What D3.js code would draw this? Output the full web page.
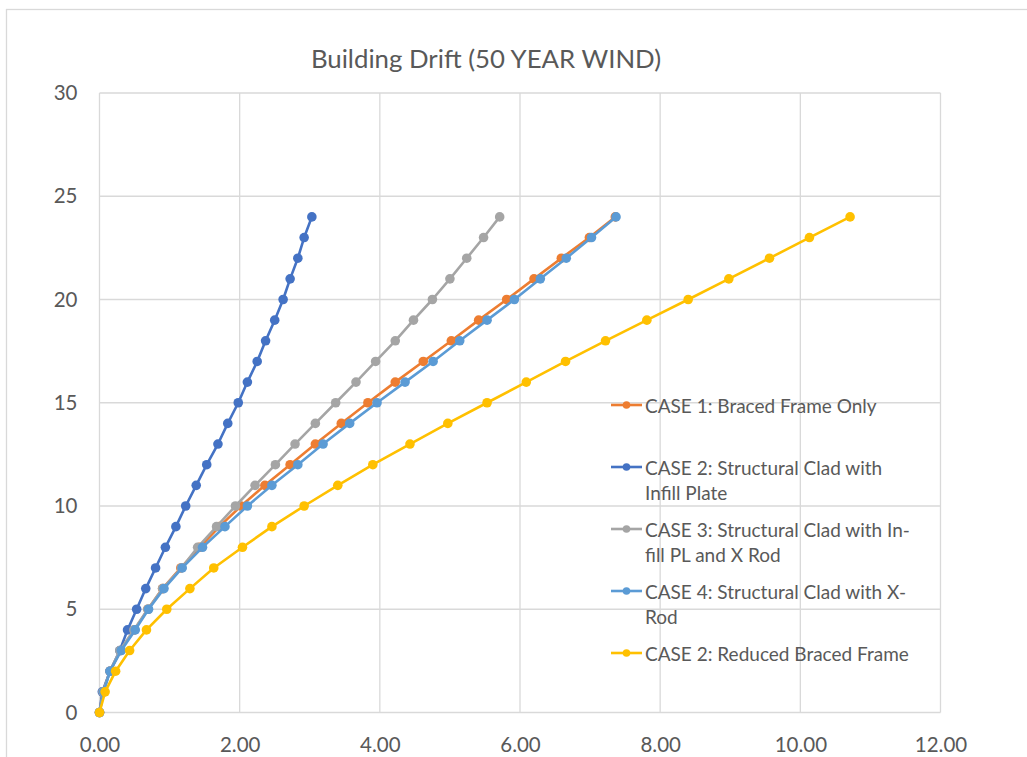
<!DOCTYPE html>
<html>
<head>
<meta charset="utf-8">
<script src="https://cdn.jsdelivr.net/npm/d3@7"></script>
<style>
  html, body { margin: 0; padding: 0; background: #fff; }
  svg { display: block; }
  text { font-family: Lato, "Open Sans", sans-serif; fill: #595959; }
</style>
</head>
<body>
<svg id="chart" width="1027" height="757"></svg>
<script>
// ---- data ----
const floors = [0,1,2,3,4,5,6,7,8,9,10,11,12,13,14,15,16,17,18,19,20,21,22,23,24];
const case1 = [0, 0.05, 0.15, 0.30, 0.50, 0.69, 0.90, 1.16, 1.43, 1.71, 2.02, 2.36, 2.72, 3.08, 3.45, 3.83, 4.22, 4.62, 5.02, 5.41, 5.81, 6.20, 6.59, 6.99, 7.36];
const case2 = [0, 0.04, 0.15, 0.29, 0.40, 0.53, 0.66, 0.80, 0.94, 1.09, 1.23, 1.38, 1.53, 1.69, 1.83, 1.98, 2.11, 2.25, 2.37, 2.50, 2.62, 2.72, 2.83, 2.92, 3.03];
const case3 = [0, 0.05, 0.15, 0.29, 0.49, 0.69, 0.90, 1.17, 1.40, 1.67, 1.94, 2.22, 2.51, 2.79, 3.08, 3.37, 3.66, 3.94, 4.22, 4.48, 4.75, 5.00, 5.24, 5.48, 5.71];
const case4 = [0, 0.06, 0.15, 0.31, 0.51, 0.70, 0.92, 1.18, 1.47, 1.79, 2.11, 2.46, 2.83, 3.19, 3.57, 3.96, 4.36, 4.76, 5.14, 5.53, 5.92, 6.29, 6.66, 7.02, 7.37];
const case5 = [0, 0.08, 0.23, 0.43, 0.67, 0.96, 1.29, 1.63, 2.04, 2.46, 2.92, 3.40, 3.90, 4.43, 4.97, 5.53, 6.09, 6.65, 7.22, 7.81, 8.40, 8.98, 9.56, 10.13, 10.71];
const seriesNames = [
  ["CASE 1: Braced Frame Only"],
  ["CASE 2: Structural Clad with", "Infill Plate"],
  ["CASE 3: Structural Clad with In-", "fill PL and X Rod"],
  ["CASE 4: Structural Clad with X-", "Rod"],
  ["CASE 2: Reduced Braced Frame"]
];
const seriesColors = ["#ED7D31", "#4472C4", "#A5A5A5", "#5B9BD5", "#FFC000"];
const xTicks = [0, 2, 4, 6, 8, 10, 12];
const yTicks = [0, 5, 10, 15, 20, 25, 30];
const title = "Building Drift (50 YEAR WIND)";

// ---- layout ----
const svg = d3.select("#chart");
const plot = { left: 99.5, right: 940.5, top: 93, bottom: 712.5 };
const x = d3.scaleLinear().domain([0, 12]).range([plot.left, plot.right]);
const y = d3.scaleLinear().domain([0, 30]).range([plot.bottom, plot.top]);

// outer chart border
svg.append("rect").attr("x", 6.5).attr("y", 9.5).attr("width", 1040).attr("height", 800)
  .attr("fill", "none").attr("stroke", "#d9d9d9").attr("stroke-width", 1.3);

// gridlines
const grid = svg.append("g");
grid.selectAll("line.v").data(xTicks).join("line")
  .attr("x1", d => x(d)).attr("x2", d => x(d))
  .attr("y1", plot.top).attr("y2", plot.bottom)
  .attr("stroke", "#d9d9d9").attr("stroke-width", 1.3);
grid.selectAll("line.h").data(yTicks).join("line")
  .attr("y1", d => y(d)).attr("y2", d => y(d))
  .attr("x1", plot.left).attr("x2", plot.right)
  .attr("stroke", "#d9d9d9").attr("stroke-width", 1.3);

// axes (labels only, via d3 axis)
const xAxis = d3.axisBottom(x).tickValues(xTicks).tickFormat(d3.format(".2f")).tickSize(0).tickPadding(0);
const gx = svg.append("g").attr("transform", `translate(0, ${plot.bottom + 25})`).call(xAxis);
gx.select(".domain").remove();
gx.selectAll("text").attr("font-size", 20.5).attr("fill", "#595959").attr("dy", "0.7em")
  .style("font-family", "Lato, 'Open Sans', sans-serif");

const yAxis = d3.axisLeft(y).tickValues(yTicks).tickFormat(d3.format("d")).tickSize(0).tickPadding(0);
const gy = svg.append("g").attr("transform", `translate(${plot.left - 22}, 0)`).call(yAxis);
gy.select(".domain").remove();
gy.selectAll("text").attr("font-size", 20.5).attr("fill", "#595959")
  .style("font-family", "Lato, 'Open Sans', sans-serif");

// title
svg.append("text").attr("x", 486).attr("y", 58).attr("text-anchor", "middle")
  .attr("dominant-baseline", "central").attr("font-size", 25.8).text(title);

// series
const allSeries = [case1, case2, case3, case4, case5];
const line = d3.line().x(d => x(d[0])).y(d => y(d[1]));
allSeries.forEach((vals, i) => {
  const pts = vals.map((v, k) => [v, floors[k]]);
  const g = svg.append("g");
  g.append("path").attr("d", line(pts)).attr("fill", "none")
    .attr("stroke", seriesColors[i]).attr("stroke-width", 2.6).attr("stroke-linejoin", "round");
  g.selectAll("circle").data(pts).join("circle")
    .attr("cx", d => x(d[0])).attr("cy", d => y(d[1])).attr("r", 4.8)
    .attr("fill", seriesColors[i]);
});

// legend
const legendY = [405, 467, 529, 591, 653];
const lg = svg.append("g");
seriesNames.forEach((lines, i) => {
  const cy = legendY[i];
  lg.append("line").attr("x1", 611).attr("x2", 642).attr("y1", cy).attr("y2", cy)
    .attr("stroke", seriesColors[i]).attr("stroke-width", 2.6);
  lg.append("circle").attr("cx", 626.5).attr("cy", cy).attr("r", 3.8).attr("fill", seriesColors[i]);
  lines.forEach((t, j) => {
    lg.append("text").attr("x", 645).attr("y", cy + j * 25.3)
      .attr("dominant-baseline", "central").attr("font-size", 19).text(t);
  });
});
</script>
</body>
</html>
